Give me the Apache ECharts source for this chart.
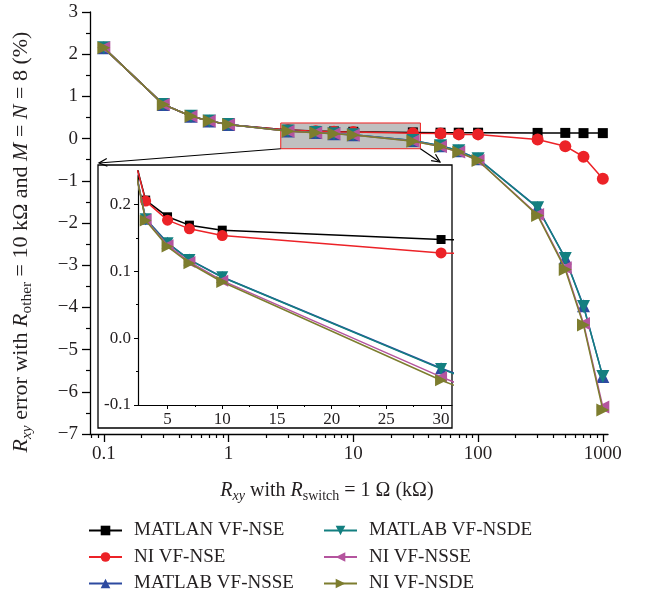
<!DOCTYPE html>
<html>
<head>
<meta charset="utf-8">
<script src="https://cdn.jsdelivr.net/npm/echarts@6/dist/echarts.min.js"></script>
<style>
html, body { margin: 0; padding: 0; background: #fff; }
#chart { width: 647px; height: 598px; }
</style>
</head>
<body>
<div id="chart"></div>
<script>
// R_xy (kOhm)
var xValues = [0.1, 0.3, 0.5, 0.7, 1, 3, 5, 7, 10, 30, 50, 70, 100, 300, 500, 700, 1000];

// error (%)
var matlanNSE  = [2.15, 0.81, 0.53, 0.42, 0.33, 0.2065, 0.1815, 0.169, 0.1615, 0.1475, 0.14, 0.14, 0.14, 0.135, 0.135, 0.13, 0.13];
var niNSE      = [2.15, 0.81, 0.53, 0.42, 0.33, 0.205, 0.1765, 0.1635, 0.1535, 0.1275, 0.12, 0.10, 0.10, -0.02, -0.18, -0.43, -0.95];
var matlabNSSE = [2.15, 0.81, 0.53, 0.42, 0.335, 0.1785, 0.1425, 0.1175, 0.0915, -0.045, -0.17, -0.29, -0.48, -1.63, -2.83, -3.96, -5.64];
var matlabNSDE = [2.15, 0.81, 0.53, 0.42, 0.335, 0.178, 0.142, 0.117, 0.091, -0.046, -0.17, -0.29, -0.48, -1.64, -2.84, -3.98, -5.64];
var niNSSE     = [2.15, 0.81, 0.53, 0.42, 0.335, 0.177, 0.139, 0.114, 0.086, -0.058, -0.19, -0.32, -0.52, -1.80, -3.06, -4.38, -6.36];
var niNSDE     = [2.15, 0.81, 0.53, 0.42, 0.335, 0.176, 0.137, 0.112, 0.084, -0.063, -0.19, -0.32, -0.52, -1.82, -3.10, -4.42, -6.43];

var names = ['MATLAN VF-NSE', 'NI VF-NSE', 'MATLAB VF-NSSE', 'MATLAB VF-NSDE', 'NI VF-NSSE', 'NI VF-NSDE'];
var values = [matlanNSE, niNSE, matlabNSSE, matlabNSDE, niNSSE, niNSDE];
var colors = ['#000000', '#ec2227', '#2d4aa0', '#137f80', '#b4549e', '#7d7d2e'];
var symbols = ['rect', 'circle', 'triangle', 'triangle', 'triangle', 'triangle'];
var rotations = [0, 0, 0, 180, 90, -90];

// axis ticks
var xMajorTicks = [0.1, 1, 10, 100, 1000];
var xMinorTicks = [0.08, 0.09, 0.2, 0.3, 0.4, 0.5, 0.6, 0.7, 0.8, 0.9,
	2, 3, 4, 5, 6, 7, 8, 9, 20, 30, 40, 50, 60, 70, 80, 90,
	200, 300, 400, 500, 600, 700, 800, 900];
var insetXTicks = [5, 10, 15, 20, 25, 30];
var insetXMinor = [7.5, 12.5, 17.5, 22.5, 27.5];
var insetYTicks = [-0.1, 0, 0.1, 0.2];
var insetYMinor = [-0.05, 0.05, 0.15];

// zoomed region shown on the main chart
var boxFrom = [2.62, 0.37];
var boxTo = [34.5, -0.24];

var font = 'Liberation Serif';
var ink = '#231f20';
var chart = echarts.init(document.getElementById('chart'));

function makeSeries(i, inset) {
	var big = inset ? 0 : 1;
	return {
		name: names[i],
		type: 'line',
		xAxisIndex: inset ? 2 : 0,
		yAxisIndex: inset ? 1 : 0,
		data: xValues.map(function (x, k) { return [x, values[i][k]]; }),
		symbol: symbols[i],
		symbolSize: symbols[i] === 'rect' ? 9 + big : (symbols[i] === 'circle' ? 11 + big : 12 + big),
		symbolRotate: rotations[i],
		lineStyle: { color: colors[i], width: 1.5 },
		itemStyle: { color: colors[i] },
		clip: true,
		z: 3 + i
	};
}

var series = [{
	name: 'box',
	type: 'line',
	xAxisIndex: 0,
	yAxisIndex: 0,
	data: [],
	z: 1,
	markArea: {
		silent: true,
		itemStyle: { color: '#c0c0c0', borderColor: '#ee2020', borderWidth: 1 },
		data: [[{ coord: boxFrom }, { coord: boxTo }]]
	}
}];
for (var i = 0; i < names.length; i++) {
	series.push(makeSeries(i, false));
}
for (var j = 0; j < names.length; j++) {
	series.push(makeSeries(j, true));
}

function powLabel(v) {
	var e = Math.round(Math.log10(v));
	if (Math.abs(Math.log10(v) - e) > 1e-6) return '';
	return e < 0 ? '0.1' : String(Math.pow(10, e));
}

function richFor(size) {
	return {
		i: { fontFamily: font, fontSize: size, fontStyle: 'italic', color: ink },
		si: { fontFamily: font, fontSize: size * 0.7, fontStyle: 'italic', padding: [size * 0.5, 0, 0, 0], color: ink },
		s: { fontFamily: font, fontSize: size * 0.7, padding: [size * 0.5, 0, 0, 0], color: ink }
	};
}

var legendText = { fontFamily: font, fontSize: 19, color: ink, padding: [0, 0, 0, 7] };

var option = {
	animation: false,
	backgroundColor: '#fff',
	textStyle: { fontFamily: font },
	legend: [{
		data: names.slice(0, 3),
		orient: 'vertical',
		left: 83,
		top: 516,
		itemWidth: 33,
		itemHeight: 12,
		itemGap: 7.5,
		textStyle: legendText
	}, {
		data: names.slice(3),
		orient: 'vertical',
		left: 318,
		top: 516,
		itemWidth: 33,
		itemHeight: 12,
		itemGap: 7.5,
		textStyle: legendText
	}],
	grid: [
		{ left: 90, right: 39, top: 12, bottom: 164, outerBoundsMode: 'none' },
		{ left: 138, right: 195, top: 171, bottom: 193, outerBoundsMode: 'none' }
	],
	xAxis: [{
		type: 'log',
		gridIndex: 0,
		min: 0.0775,
		max: 1100,
		position: 'bottom',
		axisLine: { onZero: false, lineStyle: { color: '#000', width: 1.3 } },
		axisTick: { show: true, inside: false, length: 8, lineStyle: { color: '#000', width: 1.3 }, customValues: xMajorTicks },
		axisLabel: { customValues: xMajorTicks, formatter: powLabel, margin: 11, fontFamily: font, fontSize: 19, color: ink },
		splitLine: { show: false },
		name: '{i|R}{si|xy} with {i|R}{s|switch} = 1 Ω (kΩ)',
		nameLocation: 'middle',
		nameGap: 45,
		nameTextStyle: {
			fontFamily: font, fontSize: 20, color: ink, padding: [0, 44, 0, 0],
			rich: richFor(20)
		}
	}, {
		type: 'log',
		gridIndex: 0,
		min: 0.0775,
		max: 1100,
		position: 'bottom',
		offset: 0,
		axisLine: { show: false, onZero: false },
		axisTick: { show: true, length: 4, lineStyle: { color: '#000', width: 1.2 }, customValues: xMinorTicks },
		axisLabel: { show: false },
		splitLine: { show: false }
	}, {
		type: 'value',
		gridIndex: 1,
		min: 2.3,
		max: 31,
		position: 'bottom',
		axisLine: { onZero: false, lineStyle: { color: '#000', width: 1.2 } },
		axisTick: { length: 4, lineStyle: { color: '#000' }, customValues: insetXTicks },
		axisLabel: { customValues: insetXTicks, margin: 6, fontFamily: font, fontSize: 17, color: ink },
		splitLine: { show: false }
	}, {
		type: 'value',
		gridIndex: 1,
		min: 2.3,
		max: 31,
		position: 'bottom',
		offset: 0,
		axisLine: { show: false, onZero: false },
		axisTick: { length: 2, lineStyle: { color: '#000' }, customValues: insetXMinor },
		axisLabel: { show: false },
		splitLine: { show: false }
	}],
	yAxis: [{
		type: 'value',
		gridIndex: 0,
		min: -7,
		max: 3,
		interval: 1,
		axisLine: { show: true, onZero: false, lineStyle: { color: '#000', width: 1.3 } },
		axisTick: { show: true, length: 8, lineStyle: { color: '#000', width: 1.3 } },
		minorTick: { show: true, splitNumber: 2, length: 4, lineStyle: { color: '#000', width: 1.2 } },
		axisLabel: {
			margin: 12, fontFamily: font, fontSize: 19, color: ink,
			formatter: function (v) { return v < 0 ? '\u2212' + Math.abs(v) : String(v); }
		},
		splitLine: { show: false },
		name: '{i|R}{si|xy} error with {i|R}{s|other} = 10 kΩ and {i|M} = {i|N} = 8 (%)',
		nameLocation: 'middle',
		nameRotate: 90,
		nameGap: 56,
		nameTextStyle: {
			fontFamily: font, fontSize: 22, color: ink, padding: [0, 38, 0, 0],
			rich: richFor(22)
		}
	}, {
		type: 'value',
		gridIndex: 1,
		min: -0.1,
		max: 0.25,
		axisLine: { show: true, onZero: false, lineStyle: { color: '#000', width: 1.2 } },
		axisTick: { show: true, length: 4, lineStyle: { color: '#000' }, customValues: insetYTicks },
		axisLabel: {
			customValues: insetYTicks, margin: 7, fontFamily: font, fontSize: 17, color: ink,
			formatter: function (v) { return v.toFixed(1); }
		},
		splitLine: { show: false }
	}, {
		type: 'value',
		gridIndex: 1,
		min: -0.1,
		max: 0.25,
		position: 'left',
		offset: 0,
		axisLine: { show: false, onZero: false },
		axisTick: { show: true, length: 2, lineStyle: { color: '#000' }, customValues: insetYMinor },
		axisLabel: { show: false },
		splitLine: { show: false }
	}],
	graphic: [{
		type: 'rect',
		z: -10,
		shape: { x: 98, y: 165, width: 354, height: 263 },
		style: { fill: '#fff', stroke: '#000', lineWidth: 1.3 }
	}],
	series: series
};
chart.setOption(option);

// arrows from the zoom box to the inset
function arrow(p0, p1) {
	var a = Math.atan2(p1[1] - p0[1], p1[0] - p0[0]);
	var len = 9, s = 0.45;
	var w1 = [p1[0] - len * Math.cos(a - s), p1[1] - len * Math.sin(a - s)];
	var w2 = [p1[0] - len * Math.cos(a + s), p1[1] - len * Math.sin(a + s)];
	return [{
		type: 'line', z: 20,
		shape: { x1: p0[0], y1: p0[1], x2: p1[0], y2: p1[1] },
		style: { stroke: '#000', lineWidth: 1.2 }
	}, {
		type: 'polyline', z: 20,
		shape: { points: [w1, p1, w2] },
		style: { stroke: '#000', lineWidth: 1.2, fill: null }
	}];
}
var bl = chart.convertToPixel({ seriesIndex: 1 }, [boxFrom[0], boxTo[1]]);
var br = chart.convertToPixel({ seriesIndex: 1 }, [boxTo[0], boxTo[1]]);
var extra = arrow(bl, [99, 163]).concat(arrow(br, [440, 162]));
chart.setOption({ graphic: option.graphic.concat(extra) });
</script>
</body>
</html>
